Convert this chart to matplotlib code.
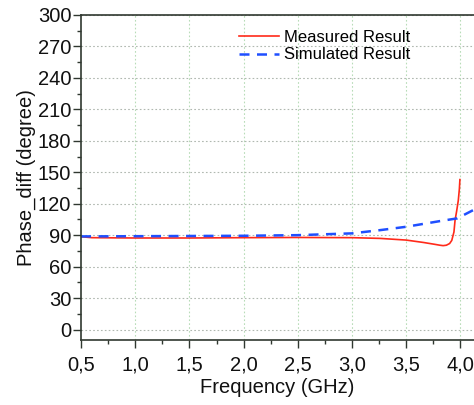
import matplotlib
matplotlib.use("Agg")
import matplotlib.pyplot as plt
from matplotlib.ticker import MultipleLocator, FuncFormatter

plt.rcParams['font.family'] = ['Liberation Sans', 'DejaVu Sans']

# Measured phase difference (degree) vs frequency (GHz)
meas_freq = [0.5, 0.6, 1.0, 1.5, 2.0, 2.5, 3.0, 3.26, 3.5, 3.66, 3.76, 3.81, 3.84, 3.87,
             3.9, 3.92, 3.94, 3.95, 3.965, 3.98, 3.99, 3.995]
meas_phase = [88.5, 87.6, 87.3, 87.3, 87.6, 87.8, 87.6, 86.9, 85.3, 83.0, 81.3, 80.4, 80.0, 80.4,
              82.0, 85.0, 93.0, 104.0, 113.0, 123.0, 134.0, 143.0]

# Simulated phase difference
sim_freq = [0.5, 1.0, 1.5, 2.0, 2.5, 3.0, 3.26, 3.5, 3.81, 3.97, 4.12]
sim_phase = [88.8, 89.0, 89.2, 89.4, 90.0, 91.7, 94.8, 98.0, 103.4, 106.0, 114.0]

xticks = [0.5, 1.0, 1.5, 2.0, 2.5, 3.0, 3.5, 4.0]
yticks = list(range(0, 301, 30))

fig = plt.figure(figsize=(4.74, 4.05), dpi=100)
ax = fig.add_axes([0.171, 0.1605, 0.829, 0.8025])

ax.plot(meas_freq, meas_phase, color='#ff2a1a', lw=1.2, label='Measured Result')
ax.plot(sim_freq, sim_phase, color='#1f4fff', lw=1.8, ls=(0, (4, 3)), label='Simulated Result')

ax.set_xlim(0.5, 4.125)
ax.set_ylim(-10, 300)
ax.set_xticks(xticks)
ax.set_yticks(yticks)
ax.xaxis.set_minor_locator(MultipleLocator(0.25))
ax.yaxis.set_minor_locator(MultipleLocator(15))
ax.xaxis.set_major_formatter(FuncFormatter(lambda v, p: ('%.1f' % v).replace('.', ',')))

for x in xticks[1:]:
    ax.axvline(x, color='#b8dcb8', lw=0.8, ls=(0, (1.5, 2)), zorder=0)
for y in yticks:
    ax.axhline(y, color='#b0b8b0', lw=0.8, ls=(0, (1.5, 2)), zorder=0)

ax.tick_params(which='major', direction='out', length=6, width=1, labelsize=14.5,
               colors='#303830', labelcolor='#111111')
ax.tick_params(which='minor', direction='out', length=3, width=1, colors='#303830')
ax.tick_params(axis='x', pad=5)
ax.tick_params(axis='y', pad=1)
for s in ['left', 'bottom', 'top']:
    ax.spines[s].set_color('#303830')
    ax.spines[s].set_linewidth(1.2)
ax.spines['right'].set_visible(False)

ax.set_xlabel('Frequency (GHz)', fontsize=14.5, color='#111111', labelpad=3)
ax.set_ylabel('Phase_diff (degree)', fontsize=14.5, color='#111111', labelpad=1)

ax.legend(loc='upper left', bbox_to_anchor=(0.365, 1.0), frameon=False, fontsize=12,
          handlelength=2.4, handletextpad=0.3, labelspacing=0.15)

fig.savefig('out.png', dpi=100)
